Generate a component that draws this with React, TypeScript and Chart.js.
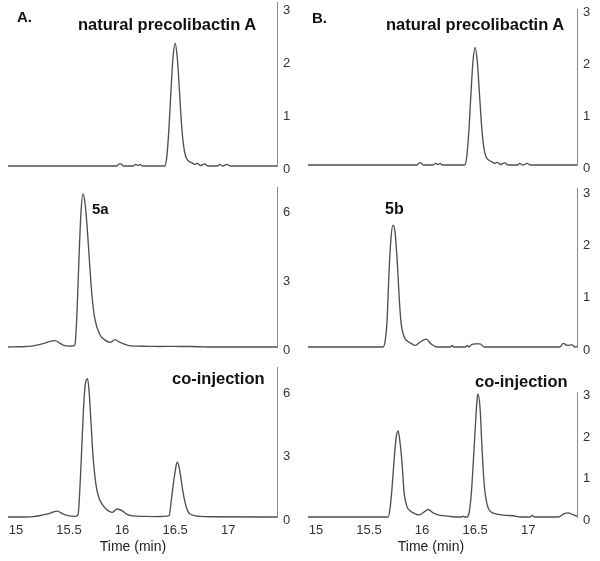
import React, { useEffect, useRef } from "react";
import { Chart, registerables } from "chart.js";

Chart.register(...registerables);

// ---------- data ----------
const timeMin = 14.925;
const timeMax = 17.46;
const xTickValues = [15, 15.5, 16, 16.5, 17];
const yTicksSmall = [0, 1, 2, 3];
const yTicksLarge = [0, 3, 6];

const timesA1 = [14.925, 15.95, 15.975, 15.99, 16.01, 16.1, 16.13, 16.15, 16.17, 16.19, 16.21, 16.4, 16.42, 16.44, 16.46, 16.48, 16.5, 16.52, 16.54, 16.56, 16.58, 16.6, 16.63, 16.66, 16.68, 16.71, 16.74, 16.78, 16.81, 16.9, 16.92, 16.95, 16.99, 17.02, 17.46];
const valuesA1 = [0, 0, 0.04, 0.04, 0, 0, 0.03, 0.01, 0.03, 0, 0, 0, 0.15, 0.65, 1.4, 2.05, 2.32, 2.05, 1.45, 0.8, 0.38, 0.18, 0.09, 0.06, 0.03, 0.05, 0.01, 0.04, 0, 0, 0.03, 0, 0.03, 0, 0];

const timesB1 = [14.925, 15.95, 15.975, 15.99, 16.01, 16.1, 16.13, 16.15, 16.17, 16.19, 16.21, 16.4, 16.42, 16.44, 16.46, 16.48, 16.5, 16.52, 16.54, 16.56, 16.58, 16.6, 16.63, 16.66, 16.68, 16.71, 16.74, 16.78, 16.81, 16.9, 16.92, 16.95, 16.99, 17.02, 17.46];
const valuesB1 = [0, 0, 0.04, 0.04, 0, 0, 0.03, 0.01, 0.03, 0, 0, 0, 0.14, 0.62, 1.35, 2.0, 2.26, 2.0, 1.4, 0.78, 0.36, 0.17, 0.09, 0.06, 0.03, 0.05, 0.01, 0.04, 0, 0, 0.03, 0, 0.03, 0, 0];

const timesA2 = [14.925, 15.05, 15.15, 15.22, 15.28, 15.33, 15.37, 15.41, 15.45, 15.5, 15.54, 15.556, 15.575, 15.594, 15.613, 15.632, 15.651, 15.67, 15.689, 15.717, 15.745, 15.79, 15.84, 15.887, 15.934, 15.98, 16.057, 16.12, 16.25, 16.35, 16.45, 16.55, 16.65, 16.74, 16.8, 17.46];
const valuesA2 = [0, 0.01, 0.04, 0.1, 0.18, 0.26, 0.28, 0.18, 0.07, 0.04, 0.05, 0.1, 1.5, 3.9, 5.9, 6.7, 6.3, 5.3, 4.0, 2.2, 1.2, 0.55, 0.3, 0.2, 0.32, 0.2, 0.07, 0.04, 0.03, 0.02, 0.03, 0.02, 0.02, 0.01, 0, 0];

const timesA3 = [14.925, 15.1, 15.16, 15.22, 15.28, 15.33, 15.39, 15.44, 15.5, 15.56, 15.585, 15.604, 15.623, 15.642, 15.66, 15.675, 15.69, 15.708, 15.726, 15.755, 15.783, 15.82, 15.868, 15.906, 15.953, 16.0, 16.047, 16.1, 16.2, 16.3, 16.4, 16.443, 16.462, 16.48, 16.5, 16.519, 16.538, 16.557, 16.575, 16.604, 16.64, 16.736, 16.83, 17.46];
const valuesA3 = [0, 0, 0.02, 0.06, 0.12, 0.2, 0.28, 0.15, 0.05, 0.03, 0.1, 1.5, 3.6, 5.6, 6.45, 6.55, 5.9, 4.4, 2.9, 1.5, 0.9, 0.55, 0.3, 0.22, 0.38, 0.3, 0.12, 0.05, 0.03, 0.02, 0.03, 0.06, 0.7, 1.45, 2.15, 2.6, 2.35, 1.75, 1.15, 0.5, 0.14, 0.03, 0.01, 0];

const timesB2 = [14.925, 15.632, 15.651, 15.67, 15.689, 15.708, 15.726, 15.745, 15.764, 15.783, 15.8, 15.83, 15.858, 15.896, 15.934, 15.972, 16.038, 16.085, 16.14, 16.27, 16.283, 16.3, 16.41, 16.425, 16.44, 16.47, 16.5, 16.547, 16.585, 17.3, 17.33, 17.37, 17.415, 17.44, 17.46];
const valuesB2 = [0, 0, 0.1, 0.5, 1.45, 2.1, 2.33, 2.2, 1.7, 1.0, 0.5, 0.2, 0.12, 0.07, 0.03, 0.08, 0.15, 0.06, 0, 0, 0.03, 0, 0, 0.03, 0, 0.05, 0.06, 0.06, 0, 0, 0.07, 0.03, 0.04, 0, 0.01];

const timesB3 = [14.925, 15.68, 15.698, 15.717, 15.736, 15.755, 15.774, 15.792, 15.811, 15.83, 15.858, 15.887, 15.934, 15.972, 16.019, 16.057, 16.104, 16.17, 16.245, 16.31, 16.375, 16.387, 16.4, 16.425, 16.443, 16.462, 16.48, 16.5, 16.519, 16.528, 16.547, 16.566, 16.585, 16.613, 16.65, 16.708, 16.783, 16.858, 16.925, 17.02, 17.038, 17.06, 17.283, 17.34, 17.377, 17.425, 17.46];
const valuesB3 = [0, 0, 0.2, 0.7, 1.36, 1.9, 2.07, 1.8, 1.3, 0.6, 0.25, 0.15, 0.08, 0.05, 0.12, 0.18, 0.1, 0.04, 0.02, 0, 0, 0.02, 0, 0, 0.1, 0.5, 1.2, 2.1, 2.85, 2.96, 2.6, 1.6, 0.8, 0.3, 0.12, 0.07, 0.04, 0.03, 0, 0, 0.04, 0, 0, 0.08, 0.1, 0.05, 0.02];

// ---------- styling ----------
const FONT = "'Liberation Sans', Arial, Helvetica, sans-serif";
const LINE_COLOR = "#505050";
const AXIS_COLOR = "#8a8a8a";
const TICK_COLOR = "#333333";

type Box = { left: number; top: number; w: number; h: number; padTop: number; padBottom: number };

type PanelProps = {
  times: number[];
  values: number[];
  yMax: number;
  yTicks: number[];
  showX: boolean;
  box: Box;
};

function Panel({ times, values, yMax, yTicks, showX, box }: PanelProps) {
  const ref = useRef<HTMLCanvasElement>(null);
  useEffect(() => {
    const chart = new Chart(ref.current as HTMLCanvasElement, {
      type: "line",
      data: {
        datasets: [
          {
            data: times.map((t, i) => ({ x: t, y: values[i] })),
            borderColor: LINE_COLOR,
            borderWidth: 1.35,
            pointRadius: 0,
            fill: false,
            cubicInterpolationMode: "monotone",
            clip: false as any,
          },
        ],
      },
      options: {
        animation: false,
        responsive: false,
        maintainAspectRatio: false,
        layout: { padding: { top: box.padTop, bottom: box.padBottom, left: 8, right: 0 } },
        plugins: { legend: { display: false }, tooltip: { enabled: false }, title: { display: false } },
        scales: {
          x: {
            type: "linear",
            min: timeMin,
            max: timeMax,
            display: showX,
            grid: { display: false, drawTicks: false },
            border: { display: false },
            ticks: {
              padding: 6,
              color: TICK_COLOR,
              font: { family: FONT, size: 13 },
              callback: (v: any) => String(v),
            },
            afterBuildTicks: (axis: any) => {
              axis.ticks = xTickValues.map((v) => ({ value: v }));
            },
            afterFit: (axis: any) => {
              axis.height = showX ? 44 : 0;
              axis.paddingLeft = 0;
              axis.paddingRight = 0;
            },
          },
          y: {
            type: "linear",
            position: "right",
            min: 0,
            max: yMax,
            grid: { display: false, drawTicks: false },
            border: { display: true, color: AXIS_COLOR, width: 1 },
            ticks: {
              padding: 6,
              labelOffset: 3,
              color: TICK_COLOR,
              font: { family: FONT, size: 13 },
              callback: (v: any) => String(v),
            },
            afterBuildTicks: (axis: any) => {
              axis.ticks = yTicks.map((v) => ({ value: v }));
            },
            afterFit: (axis: any) => {
              axis.width = 23;
              axis.paddingTop = 0;
              axis.paddingBottom = 0;
            },
          },
        },
      } as any,
    });
    return () => chart.destroy();
  }, []);
  return (
    <canvas
      ref={ref}
      width={box.w}
      height={box.h}
      style={{ position: "absolute", left: box.left, top: box.top, width: box.w, height: box.h }}
    />
  );
}

function Label({ text, left, top, size, bold = true, center = false }: { text: string; left: number; top: number; size: number; bold?: boolean; center?: boolean }) {
  return (
    <div
      style={{
        position: "absolute",
        left,
        top,
        fontFamily: FONT,
        fontSize: size,
        fontWeight: bold ? 700 : 400,
        lineHeight: 1,
        color: bold ? "#111" : "#222",
        whiteSpace: "nowrap",
        transform: center ? "translateX(-50%)" : undefined,
      }}
    >
      {text}
    </div>
  );
}

export default function App() {
  return (
    <div style={{ position: "absolute", left: 0, top: 0, width: 600, height: 561, background: "#fff", overflow: "hidden" }}>
      <Panel times={timesA1} values={valuesA1} yMax={3.1} yTicks={yTicksSmall} showX={false} box={{ left: 0, top: 0, w: 300, h: 176, padTop: 2, padBottom: 10 }} />
      <Panel times={timesA2} values={valuesA2} yMax={7.0} yTicks={yTicksLarge} showX={false} box={{ left: 0, top: 178, w: 300, h: 180, padTop: 9, padBottom: 11 }} />
      <Panel times={timesA3} values={valuesA3} yMax={7.1} yTicks={yTicksLarge} showX={true} box={{ left: 0, top: 358, w: 300, h: 203, padTop: 9, padBottom: 0 }} />
      <Panel times={timesB1} values={valuesB1} yMax={3.0} yTicks={yTicksSmall} showX={false} box={{ left: 300, top: 0, w: 300, h: 176, padTop: 9, padBottom: 11 }} />
      <Panel times={timesB2} values={valuesB2} yMax={3.04} yTicks={yTicksSmall} showX={false} box={{ left: 300, top: 178, w: 300, h: 180, padTop: 10, padBottom: 11 }} />
      <Panel times={timesB3} values={valuesB3} yMax={3.01} yTicks={yTicksSmall} showX={true} box={{ left: 300, top: 358, w: 300, h: 203, padTop: 34, padBottom: 0 }} />

      <Label text="A." left={17} top={9} size={15} />
      <Label text="B." left={312} top={10} size={15} />
      <Label text="natural precolibactin A" left={78} top={16} size={16.5} />
      <Label text="natural precolibactin A" left={386} top={16} size={16.5} />
      <Label text="5a" left={92} top={201} size={15} />
      <Label text="5b" left={385} top={201} size={16} />
      <Label text="co-injection" left={172} top={370} size={16.5} />
      <Label text="co-injection" left={475} top={373} size={16.5} />
      <Label text="Time (min)" left={133} top={539} size={14} bold={false} center />
      <Label text="Time (min)" left={431} top={539} size={14} bold={false} center />
    </div>
  );
}
